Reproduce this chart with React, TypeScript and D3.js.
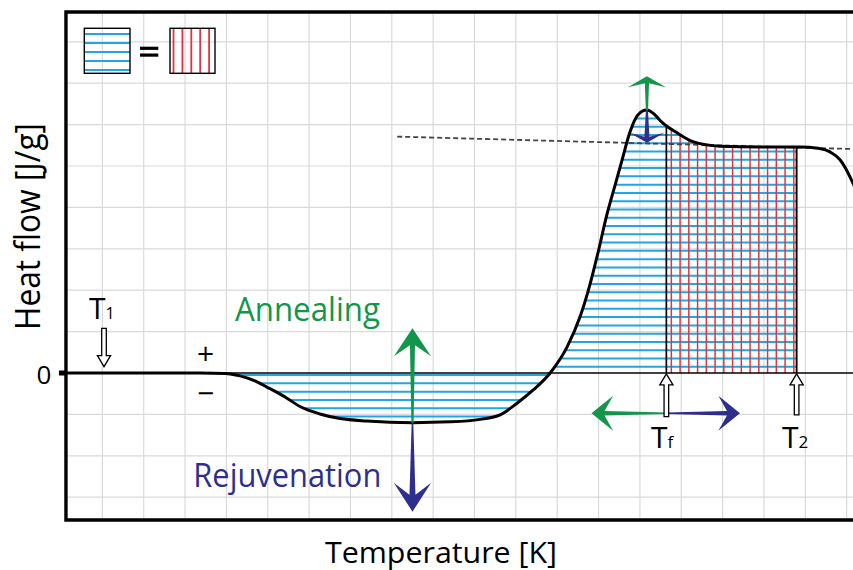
import React from "react";
import * as d3 from "d3";

// ---- data (grid units: temperature in arbitrary grid steps, heat flow in grid steps) ----
const temperature = [0.12, 2.15, 3.36, 3.97, 4.33, 4.69, 4.98, 5.42, 5.78, 6.26, 6.75, 7.4, 8.51, 9.41, 10.13, 10.62, 11.03, 11.42, 11.83, 12.24, 12.55, 12.79, 12.99, 13.2, 13.4, 13.57, 13.76, 13.95, 14.17, 14.37, 14.53, 14.9, 15.28, 15.94, 16.91, 17.87, 18.31, 18.6, 18.84, 19.15, 19.35];
const heatFlow = [0, 0, 0, -0.01, -0.07, -0.19, -0.34, -0.58, -0.81, -0.99, -1.1, -1.16, -1.2, -1.18, -1.12, -1.01, -0.73, -0.41, 0, 0.63, 1.35, 2.13, 2.92, 3.82, 4.54, 5.15, 5.82, 6.23, 6.35, 6.23, 6.06, 5.8, 5.59, 5.48, 5.46, 5.46, 5.43, 5.34, 5.15, 4.59, 4.1];
const baselineT = [8.13, 20];
const baselineH = [5.71, 5.387];
const T1 = 1.04;
const Tf = 14.64;
const T2 = 17.79;
const peakT = 14.17;
const peakH = 6.35;
const dipT = 8.5;
const dipH = -1.2;
const yTickLabels = ["0"];
const xTitle = "Temperature [K]";
const yTitle = "Heat flow [J/g]";

const FONT = "'Open Sans', 'Noto Sans', sans-serif";
const GREEN = "#11964a";
const BLUE = "#2e2e8c";
const HATCH_BLUE = "#23a5e0";
const HATCH_RED = "#e8303f";

const W = 853;
const H = 570;

const x = d3.scaleLinear().domain([0, 20]).range([61, 61 + 20 * 41.35]);
const y = d3.scaleLinear().domain([0, 1]).range([373, 331.6]);

const X_LEFT = 0.12;
const Y_TOP = 8.72;
const Y_BOT = -3.55;

const pts: [number, number][] = temperature.map((t, i) => [t, heatFlow[i]]);

function arrowPath(x0: number, y0: number, x1: number, y1: number, headLen: number, halfW: number, notch: number, w0: number, w1: number) {
  const dx = x1 - x0, dy = y1 - y0;
  const L = Math.hypot(dx, dy);
  const ux = dx / L, uy = dy / L;
  const nx = -uy, ny = ux;
  const p = (a: number, b: number) => `${x1 - ux * a + nx * b},${y1 - uy * a + ny * b}`;
  return `M${p(0, 0)}L${p(headLen, halfW)}L${p(notch, w1 / 2)}L${p(L, w0 / 2)}L${p(L, -w0 / 2)}L${p(notch, -w1 / 2)}L${p(headLen, -halfW)}Z`;
}

export default function App() {
  const line = d3.line<[number, number]>().x(d => x(d[0])).y(d => y(d[1])).curve(d3.curveMonotoneX);
  const area = d3.area<[number, number]>().x(d => x(d[0])).y0(y(0)).y1(d => y(d[1])).curve(d3.curveMonotoneX);

  const gridX = d3.range(1, 20);
  const gridY = d3.range(-3, 9).filter(v => v !== 0);

  const blueRows = d3.range(-0.05 - 0.2 * 8, 7, 0.2).map(v => +v.toFixed(3));
  const redCols = d3.range(0, 15).map(k => Tf + 0.12 + k * 0.2116);

  const xl = x(X_LEFT);
  const yt = y(Y_TOP);
  const yb = y(Y_BOT);

  const hollow = (t: number, h0: number, h1: number, key: string) => (
    <path key={key} d={arrowPath(x(t), y(h0), x(t), y(h1), 11, 6.6, 11, 4.6, 4.6)} fill="#fff" stroke="#000" strokeWidth={1.3} strokeLinejoin="miter" />
  );

  return (
    <svg width={W} height={H} style={{ position: "absolute", left: 0, top: 0, fontFamily: FONT }}>
      <defs>
        <clipPath id="plotClip">
          <rect x={xl} y={yt} width={W - xl} height={yb - yt} />
        </clipPath>
        <clipPath id="areaClip">
          <path d={area(pts) || ""} />
        </clipPath>
        <clipPath id="xRange">
          <rect x={xl} y={0} width={x(T2) - xl} height={H} />
        </clipPath>
        <clipPath id="redRange">
          <rect x={x(Tf)} y={0} width={x(T2) - x(Tf)} height={H} />
        </clipPath>
      </defs>
      <rect width={W} height={H} fill="#fff" />

      {/* grid */}
      <g clipPath="url(#plotClip)" stroke="#dadada" strokeWidth={1.2}>
        {gridX.map(u => <line key={"gx" + u} x1={x(u)} x2={x(u)} y1={yt} y2={yb} />)}
        {gridY.map(v => <line key={"gy" + v} x1={xl} x2={W} y1={y(v)} y2={y(v)} />)}
      </g>

      {/* blue hatch */}
      <g clipPath="url(#xRange)">
        <g clipPath="url(#areaClip)">
          {blueRows.map(v => (
            <line key={"br" + v} x1={xl} x2={x(T2)} y1={y(v)} y2={y(v)} stroke={HATCH_BLUE} strokeWidth={2} />
          ))}
        </g>
      </g>
      {/* red hatch */}
      <g clipPath="url(#redRange)">
        <g clipPath="url(#areaClip)">
          {redCols.map((u, i) => (
            <line key={"rc" + i} x1={x(u)} x2={x(u)} y1={y(0)} y2={y(7)} stroke={HATCH_RED} strokeWidth={1.5} />
          ))}
        </g>
      </g>
      <g clipPath="url(#areaClip)">
        <line x1={x(Tf)} x2={x(Tf)} y1={y(0)} y2={y(7)} stroke="#000" strokeWidth={1.7} />
        <line x1={x(T2)} x2={x(T2)} y1={y(0)} y2={y(7)} stroke="#000" strokeWidth={1.9} />
      </g>

      {/* zero line */}
      <line x1={xl} x2={W} y1={y(0)} y2={y(0)} stroke="#000" strokeWidth={1.5} />

      {/* dashed baseline */}
      <line x1={x(baselineT[0])} y1={y(baselineH[0])} x2={x(baselineT[1])} y2={y(baselineH[1])} stroke="#444" strokeWidth={1.8} strokeDasharray="5 3" />

      {/* curve */}
      <path d={line(pts) || ""} fill="none" stroke="#000" strokeWidth={3} strokeLinejoin="round" />

      {/* frame */}
      <path d={`M${W + 10},${yt}H${xl}V${yb}H${W + 10}`} fill="none" stroke="#000" strokeWidth={3.4} />
      <rect x={xl - 7} y={y(0) - 2.5} width={7} height={5} fill="#000" />

      {/* axis texts */}
      <text x={44} y={383.5} fontSize={26} textAnchor="middle" fill="#000">{yTickLabels[0]}</text>
      <text transform="translate(40,226.5) rotate(-90)" fontSize={34} textAnchor="middle" textLength={207} lengthAdjust="spacingAndGlyphs" fill="#000">{yTitle}</text>
      <text x={441} y={563} fontSize={29.5} textAnchor="middle" textLength={232} lengthAdjust="spacingAndGlyphs" fill="#000">{xTitle}</text>

      {/* big arrows at dip */}
      <path d={arrowPath(x(dipT), y(dipH), x(dipT), y(1.08), 28, 18.6, 17, 2.2, 5)} fill={GREEN} />
      <path d={arrowPath(x(dipT), y(dipH), x(dipT), y(-3.35), 29, 18.7, 17, 1.6, 6)} fill={BLUE} />

      {/* peak arrows */}
      <path d={arrowPath(x(peakT), y(peakH), x(peakT), y(7.17), 11, 19, 7, 2.2, 4.2)} fill={GREEN} />
      <path d={arrowPath(x(peakT), y(peakH), x(peakT), y(5.56), 10, 17.5, 6, 2, 5)} fill={BLUE} />

      {/* horizontal arrows at Tf */}
      <path d={arrowPath(x(Tf), y(-0.973), x(12.83), y(-0.973), 21.6, 17.5, 13, 1.4, 4.6)} fill={GREEN} />
      <path d={arrowPath(x(Tf), y(-0.973), x(16.42), y(-0.973), 21.6, 17.5, 13, 1.4, 4.6)} fill={BLUE} />

      {/* hollow arrows */}
      {hollow(T1, 1.08, 0.152, "a1")}
      {hollow(Tf, -1.056, -0.02, "af")}
      {hollow(T2, -1.01, -0.02, "a2")}

      {/* T labels */}
      <text x={89} y={319} fontSize={30} fill="#000">T<tspan fontSize={16}>1</tspan></text>
      <text x={651} y={448.3} fontSize={30} fill="#000">T<tspan fontSize={17}>f</tspan></text>
      <text x={782} y={448.3} fontSize={30} fill="#000">T<tspan fontSize={17}>2</tspan></text>

      {/* +/- */}
      <text x={205.5} y={364} fontSize={30} textAnchor="middle" fill="#000">+</text>
      <text x={205.5} y={404} fontSize={30} textAnchor="middle" fill="#000">−</text>

      {/* annotations */}
      <text x={235} y={320.7} fontSize={32.5} textLength={145} lengthAdjust="spacingAndGlyphs" fill={GREEN}>Annealing</text>
      <text x={193.3} y={486.7} fontSize={32.5} textLength={188} lengthAdjust="spacingAndGlyphs" fill={BLUE}>Rejuvenation</text>

      {/* legend */}
      <g>
        {d3.range(0, 5).map(k => (
          <line key={"lb" + k} x1={84.3} x2={130} y1={34 + 9 * k} y2={34 + 9 * k} stroke={HATCH_BLUE} strokeWidth={1.8} />
        ))}
        <rect x={84.3} y={28.3} width={45.7} height={45} fill="none" stroke="#000" strokeWidth={1.4} />
        <rect x={140} y={46.7} width={18.3} height={3.2} fill="#000" />
        <rect x={140} y={53.5} width={18.3} height={3.2} fill="#000" />
        {d3.range(0, 5).map(k => (
          <line key={"lr" + k} x1={173.5 + 8.9 * k} x2={173.5 + 8.9 * k} y1={28.3} y2={73.3} stroke={HATCH_RED} strokeWidth={1.8} />
        ))}
        <rect x={170} y={28.3} width={45} height={45} fill="none" stroke="#000" strokeWidth={1.4} />
      </g>
    </svg>
  );
}
